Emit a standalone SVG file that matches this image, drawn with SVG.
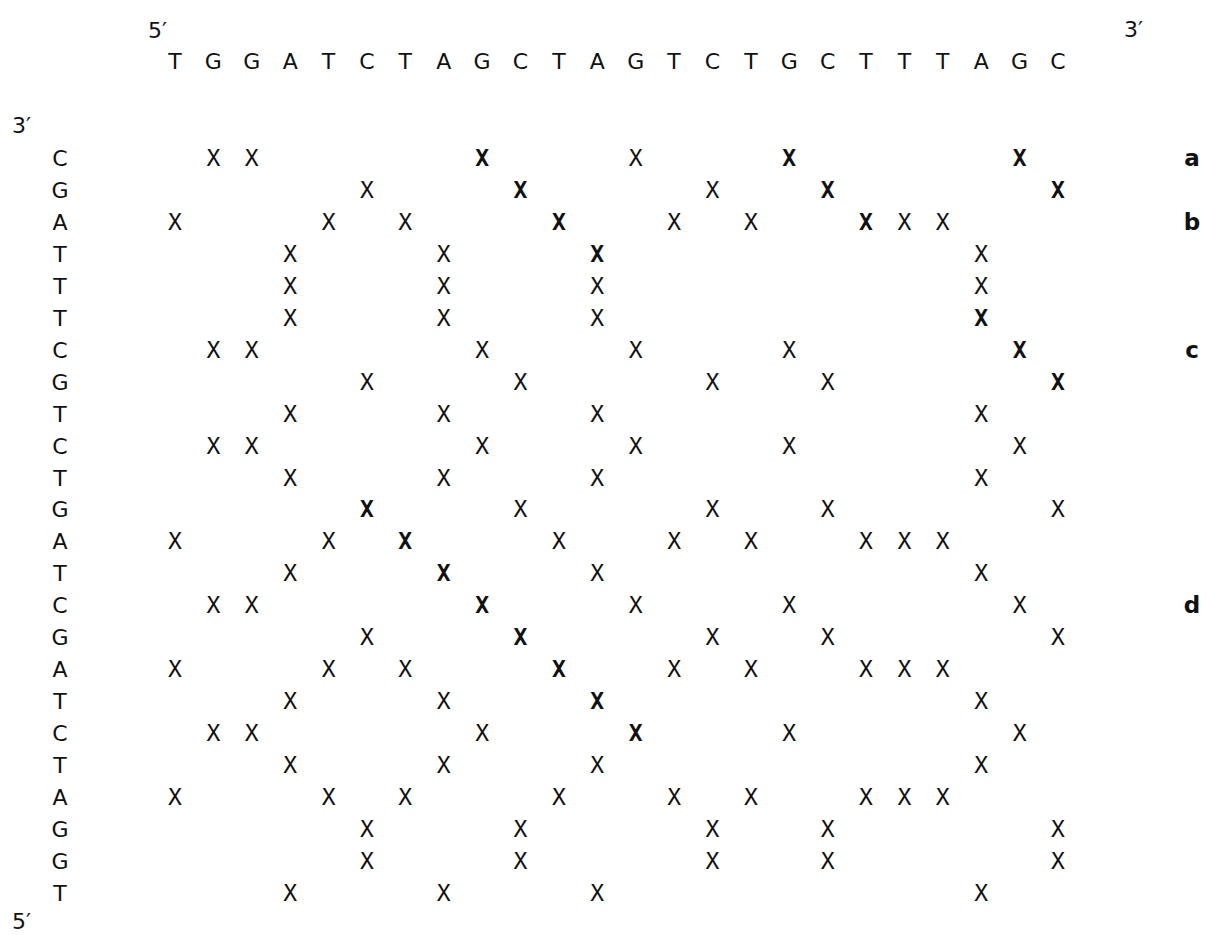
<svg xmlns="http://www.w3.org/2000/svg" width="1207" height="935" viewBox="0 0 1207 935">
<style>
.l{font-family:"DejaVu Sans","Liberation Sans",sans-serif;font-size:22px;fill:#111;text-anchor:middle}
.p{font-family:"DejaVu Sans","Liberation Sans",sans-serif;font-size:22px;fill:#111}
.x{font-family:"DejaVu Sans Mono","Liberation Mono",monospace;font-size:23px;fill:#111;text-anchor:middle}
.b{font-weight:bold}
.s{font-family:"DejaVu Sans","Liberation Sans",sans-serif;font-size:23px;font-weight:bold;fill:#111;text-anchor:middle}
</style>
<rect width="1207" height="935" fill="#fff"/>
<g id="ends">
<text class="p" x="148" y="38">5′</text>
<text class="p" x="1124" y="37">3′</text>
<text class="p" x="12" y="133">3′</text>
<text class="p" x="12" y="929">5′</text>
</g>
<g id="top-sequence">
<text class="l" x="175" y="69">T</text>
<text class="l" x="213.4" y="69">G</text>
<text class="l" x="251.8" y="69">G</text>
<text class="l" x="290.2" y="69">A</text>
<text class="l" x="328.6" y="69">T</text>
<text class="l" x="367" y="69">C</text>
<text class="l" x="405.3" y="69">T</text>
<text class="l" x="443.7" y="69">A</text>
<text class="l" x="482.1" y="69">G</text>
<text class="l" x="520.5" y="69">C</text>
<text class="l" x="558.9" y="69">T</text>
<text class="l" x="597.3" y="69">A</text>
<text class="l" x="635.7" y="69">G</text>
<text class="l" x="674.1" y="69">T</text>
<text class="l" x="712.5" y="69">C</text>
<text class="l" x="750.9" y="69">T</text>
<text class="l" x="789.2" y="69">G</text>
<text class="l" x="827.6" y="69">C</text>
<text class="l" x="866" y="69">T</text>
<text class="l" x="904.4" y="69">T</text>
<text class="l" x="942.8" y="69">T</text>
<text class="l" x="981.2" y="69">A</text>
<text class="l" x="1019.6" y="69">G</text>
<text class="l" x="1058" y="69">C</text>
</g>
<g id="left-sequence">
<text class="l" x="60" y="166">C</text>
<text class="l" x="60" y="198">G</text>
<text class="l" x="60" y="230">A</text>
<text class="l" x="60" y="262">T</text>
<text class="l" x="60" y="294">T</text>
<text class="l" x="60" y="326">T</text>
<text class="l" x="60" y="358">C</text>
<text class="l" x="60" y="390">G</text>
<text class="l" x="60" y="422">T</text>
<text class="l" x="60" y="454">C</text>
<text class="l" x="60" y="486">T</text>
<text class="l" x="60" y="517">G</text>
<text class="l" x="60" y="549">A</text>
<text class="l" x="60" y="581">T</text>
<text class="l" x="60" y="613">C</text>
<text class="l" x="60" y="645">G</text>
<text class="l" x="60" y="677">A</text>
<text class="l" x="60" y="709">T</text>
<text class="l" x="60" y="741">C</text>
<text class="l" x="60" y="773">T</text>
<text class="l" x="60" y="805">A</text>
<text class="l" x="60" y="837">G</text>
<text class="l" x="60" y="869">G</text>
<text class="l" x="60" y="901">T</text>
</g>
<g id="side-labels">
<text class="s" x="1192" y="166">a</text>
<text class="s" x="1192" y="230">b</text>
<text class="s" x="1192" y="358">c</text>
<text class="s" x="1192" y="613">d</text>
</g>
<g id="matrix">
<g id="r1"><text class="x" x="213.4" y="166">X</text><text class="x" x="251.8" y="166">X</text><text class="x b" x="482.1" y="166">X</text><text class="x" x="635.7" y="166">X</text><text class="x b" x="789.2" y="166">X</text><text class="x b" x="1019.6" y="166">X</text></g>
<g id="r2"><text class="x" x="367" y="198">X</text><text class="x b" x="520.5" y="198">X</text><text class="x" x="712.5" y="198">X</text><text class="x b" x="827.6" y="198">X</text><text class="x b" x="1058" y="198">X</text></g>
<g id="r3"><text class="x" x="175" y="230">X</text><text class="x" x="328.6" y="230">X</text><text class="x" x="405.3" y="230">X</text><text class="x b" x="558.9" y="230">X</text><text class="x" x="674.1" y="230">X</text><text class="x" x="750.9" y="230">X</text><text class="x b" x="866" y="230">X</text><text class="x" x="904.4" y="230">X</text><text class="x" x="942.8" y="230">X</text></g>
<g id="r4"><text class="x" x="290.2" y="262">X</text><text class="x" x="443.7" y="262">X</text><text class="x b" x="597.3" y="262">X</text><text class="x" x="981.2" y="262">X</text></g>
<g id="r5"><text class="x" x="290.2" y="294">X</text><text class="x" x="443.7" y="294">X</text><text class="x" x="597.3" y="294">X</text><text class="x" x="981.2" y="294">X</text></g>
<g id="r6"><text class="x" x="290.2" y="326">X</text><text class="x" x="443.7" y="326">X</text><text class="x" x="597.3" y="326">X</text><text class="x b" x="981.2" y="326">X</text></g>
<g id="r7"><text class="x" x="213.4" y="358">X</text><text class="x" x="251.8" y="358">X</text><text class="x" x="482.1" y="358">X</text><text class="x" x="635.7" y="358">X</text><text class="x" x="789.2" y="358">X</text><text class="x b" x="1019.6" y="358">X</text></g>
<g id="r8"><text class="x" x="367" y="390">X</text><text class="x" x="520.5" y="390">X</text><text class="x" x="712.5" y="390">X</text><text class="x" x="827.6" y="390">X</text><text class="x b" x="1058" y="390">X</text></g>
<g id="r9"><text class="x" x="290.2" y="422">X</text><text class="x" x="443.7" y="422">X</text><text class="x" x="597.3" y="422">X</text><text class="x" x="981.2" y="422">X</text></g>
<g id="r10"><text class="x" x="213.4" y="454">X</text><text class="x" x="251.8" y="454">X</text><text class="x" x="482.1" y="454">X</text><text class="x" x="635.7" y="454">X</text><text class="x" x="789.2" y="454">X</text><text class="x" x="1019.6" y="454">X</text></g>
<g id="r11"><text class="x" x="290.2" y="486">X</text><text class="x" x="443.7" y="486">X</text><text class="x" x="597.3" y="486">X</text><text class="x" x="981.2" y="486">X</text></g>
<g id="r12"><text class="x b" x="367" y="517">X</text><text class="x" x="520.5" y="517">X</text><text class="x" x="712.5" y="517">X</text><text class="x" x="827.6" y="517">X</text><text class="x" x="1058" y="517">X</text></g>
<g id="r13"><text class="x" x="175" y="549">X</text><text class="x" x="328.6" y="549">X</text><text class="x b" x="405.3" y="549">X</text><text class="x" x="558.9" y="549">X</text><text class="x" x="674.1" y="549">X</text><text class="x" x="750.9" y="549">X</text><text class="x" x="866" y="549">X</text><text class="x" x="904.4" y="549">X</text><text class="x" x="942.8" y="549">X</text></g>
<g id="r14"><text class="x" x="290.2" y="581">X</text><text class="x b" x="443.7" y="581">X</text><text class="x" x="597.3" y="581">X</text><text class="x" x="981.2" y="581">X</text></g>
<g id="r15"><text class="x" x="213.4" y="613">X</text><text class="x" x="251.8" y="613">X</text><text class="x b" x="482.1" y="613">X</text><text class="x" x="635.7" y="613">X</text><text class="x" x="789.2" y="613">X</text><text class="x" x="1019.6" y="613">X</text></g>
<g id="r16"><text class="x" x="367" y="645">X</text><text class="x b" x="520.5" y="645">X</text><text class="x" x="712.5" y="645">X</text><text class="x" x="827.6" y="645">X</text><text class="x" x="1058" y="645">X</text></g>
<g id="r17"><text class="x" x="175" y="677">X</text><text class="x" x="328.6" y="677">X</text><text class="x" x="405.3" y="677">X</text><text class="x b" x="558.9" y="677">X</text><text class="x" x="674.1" y="677">X</text><text class="x" x="750.9" y="677">X</text><text class="x" x="866" y="677">X</text><text class="x" x="904.4" y="677">X</text><text class="x" x="942.8" y="677">X</text></g>
<g id="r18"><text class="x" x="290.2" y="709">X</text><text class="x" x="443.7" y="709">X</text><text class="x b" x="597.3" y="709">X</text><text class="x" x="981.2" y="709">X</text></g>
<g id="r19"><text class="x" x="213.4" y="741">X</text><text class="x" x="251.8" y="741">X</text><text class="x" x="482.1" y="741">X</text><text class="x b" x="635.7" y="741">X</text><text class="x" x="789.2" y="741">X</text><text class="x" x="1019.6" y="741">X</text></g>
<g id="r20"><text class="x" x="290.2" y="773">X</text><text class="x" x="443.7" y="773">X</text><text class="x" x="597.3" y="773">X</text><text class="x" x="981.2" y="773">X</text></g>
<g id="r21"><text class="x" x="175" y="805">X</text><text class="x" x="328.6" y="805">X</text><text class="x" x="405.3" y="805">X</text><text class="x" x="558.9" y="805">X</text><text class="x" x="674.1" y="805">X</text><text class="x" x="750.9" y="805">X</text><text class="x" x="866" y="805">X</text><text class="x" x="904.4" y="805">X</text><text class="x" x="942.8" y="805">X</text></g>
<g id="r22"><text class="x" x="367" y="837">X</text><text class="x" x="520.5" y="837">X</text><text class="x" x="712.5" y="837">X</text><text class="x" x="827.6" y="837">X</text><text class="x" x="1058" y="837">X</text></g>
<g id="r23"><text class="x" x="367" y="869">X</text><text class="x" x="520.5" y="869">X</text><text class="x" x="712.5" y="869">X</text><text class="x" x="827.6" y="869">X</text><text class="x" x="1058" y="869">X</text></g>
<g id="r24"><text class="x" x="290.2" y="901">X</text><text class="x" x="443.7" y="901">X</text><text class="x" x="597.3" y="901">X</text><text class="x" x="981.2" y="901">X</text></g>
</g>
</svg>
